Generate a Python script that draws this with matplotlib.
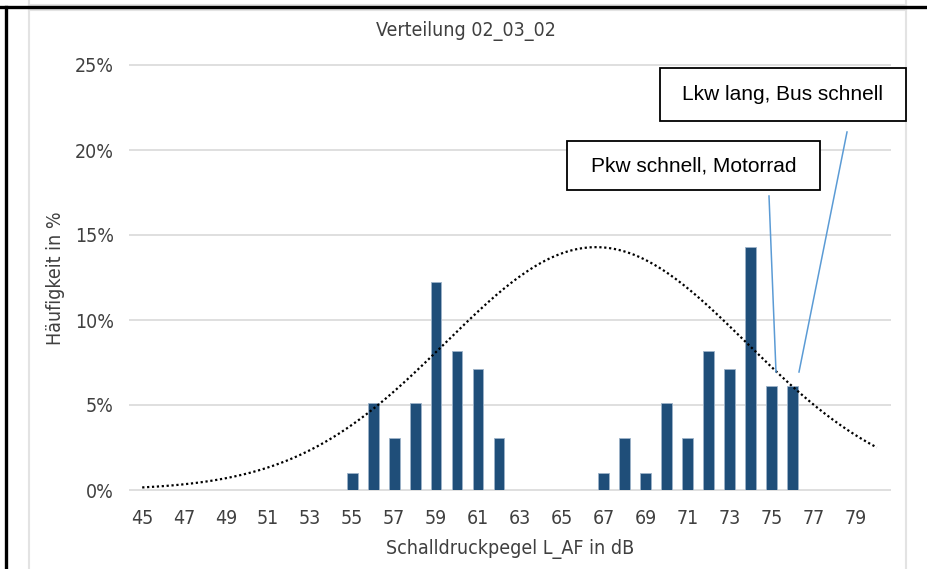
import numpy as np
import matplotlib
matplotlib.use("Agg")
import matplotlib.pyplot as plt
from matplotlib.lines import Line2D
from matplotlib.patches import Rectangle
from matplotlib.ticker import FuncFormatter

# %% Data: counts per sound level (N = 98 passes)
levels = np.arange(45, 81)
counts = np.zeros(levels.size)
bar_levels = [55, 56, 57, 58, 59, 60, 61, 62, 67, 68, 69, 70, 71, 72, 73, 74, 75, 76]
bar_counts = [1, 5, 3, 5, 12, 8, 7, 3, 1, 3, 1, 5, 3, 8, 7, 14, 6, 6]
for lv, c in zip(bar_levels, bar_counts):
    counts[levels == lv] = c
pct = counts / counts.sum()

tick_labels = [str(v) for v in range(45, 80, 2)]
title = "Verteilung 02_03_02"
xlabel = "Schalldruckpegel L_AF in dB"
ylabel = "Häufigkeit in %"
notes = ["Pkw schnell, Motorrad", "Lkw lang, Bus schnell"]

# %% Normal fit, scaled to tallest bar
mu = np.sum(levels * pct)
sigma = np.sqrt(np.sum(pct * (levels - mu) ** 2))
xs = np.linspace(45, 80, 300)
curve = pct.max() * np.exp(-(xs - mu) ** 2 / (2 * sigma ** 2))

# %% Figure
W, H = 928, 569
fig = plt.figure(figsize=(W / 100, H / 100), dpi=100)
narrow = dict(family="DejaVu Sans", stretch="condensed")
plain = ["Liberation Sans", "DejaVu Sans"]


def fx(px):
    return px / W


def fy(py):
    return 1 - py / H


ax = fig.add_axes([fx(131.7), fy(490), fx(887.3) - fx(131.7), fy(65) - fy(490)])

ax.bar(levels, pct, width=0.52, color="#1F4E79", edgecolor="#9DB3C9", linewidth=0.6, zorder=3)
ax.plot(xs, curve, color="black", linestyle=(0, (1, 1.2)), linewidth=1.6, zorder=4)

ax.set_xlim(44.5, 80.5)
ax.set_ylim(0, 0.25)
yt = np.arange(0, 0.26, 0.05)
ax.set_yticks(yt)
ax.yaxis.set_major_formatter(FuncFormatter(lambda v, p: f"{v*100:.0f}%"))
ax.set_xticks(range(45, 80, 2))
ax.set_xticklabels(tick_labels)
ax.hlines(yt, 44.35, 80.7, color="#D9D9D9", linewidth=1.2, zorder=0, clip_on=False)
for s in ax.spines.values():
    s.set_visible(False)
ax.tick_params(length=0, labelsize=14)
for lab in ax.get_xticklabels() + ax.get_yticklabels():
    lab.set_family(narrow["family"])
    lab.set_stretch(narrow["stretch"])
    lab.set_color("#404040")
ax.tick_params(axis="x", pad=14)
ax.tick_params(axis="y", pad=13)

fig.text(fx(466), fy(31), title, ha="center", va="center", fontsize=14, color="#404040", **narrow)
fig.text(fx(510), fy(549), xlabel, ha="center", va="center", fontsize=14, color="#404040", **narrow)
fig.text(fx(56), fy(278), ylabel, ha="center", va="center", rotation=90, fontsize=14, color="#404040", **narrow)

# %% Callouts
boxes = [(567, 141, 820, 190), (660, 68, 906, 121)]
leaders = [((769, 196), (776, 372)), ((847, 132), (799, 372))]
for (x0, y0, x1, y1), txt in zip(boxes, notes):
    fig.add_artist(Rectangle((fx(x0), fy(y1)), fx(x1) - fx(x0), fy(y0) - fy(y1),
                             transform=fig.transFigure, facecolor="white", edgecolor="black", linewidth=1.3, zorder=5))
    fig.text(fx((x0 + x1) / 2), fy((y0 + y1) / 2), txt, ha="center", va="center",
             fontsize=15, family=plain, color="black", zorder=6)
for (a, b) in leaders:
    fig.add_artist(Line2D([fx(a[0]), fx(b[0])], [fy(a[1]), fy(b[1])], color="#5B9BD5", linewidth=1.1, zorder=5))

# %% Page frame (table borders)
fig.add_artist(Line2D([fx(29), fx(29)], [0, 1], color="#E3E3E3", linewidth=1.5))
fig.add_artist(Line2D([fx(906), fx(906)], [0, 1], color="#E3E3E3", linewidth=1.5))
fig.add_artist(Line2D([fx(29), fx(906)], [fy(4.5), fy(4.5)], color="#E3E3E3", linewidth=1.5))
fig.add_artist(Line2D([fx(29), fx(906)], [fy(10), fy(10)], color="#E3E3E3", linewidth=1.5))
fig.add_artist(Line2D([0, 1], [fy(7), fy(7)], color="black", linewidth=2.4))
fig.add_artist(Line2D([fx(6.5), fx(6.5)], [0, fy(7)], color="black", linewidth=2.4))

fig.savefig("out.png", dpi=100)
